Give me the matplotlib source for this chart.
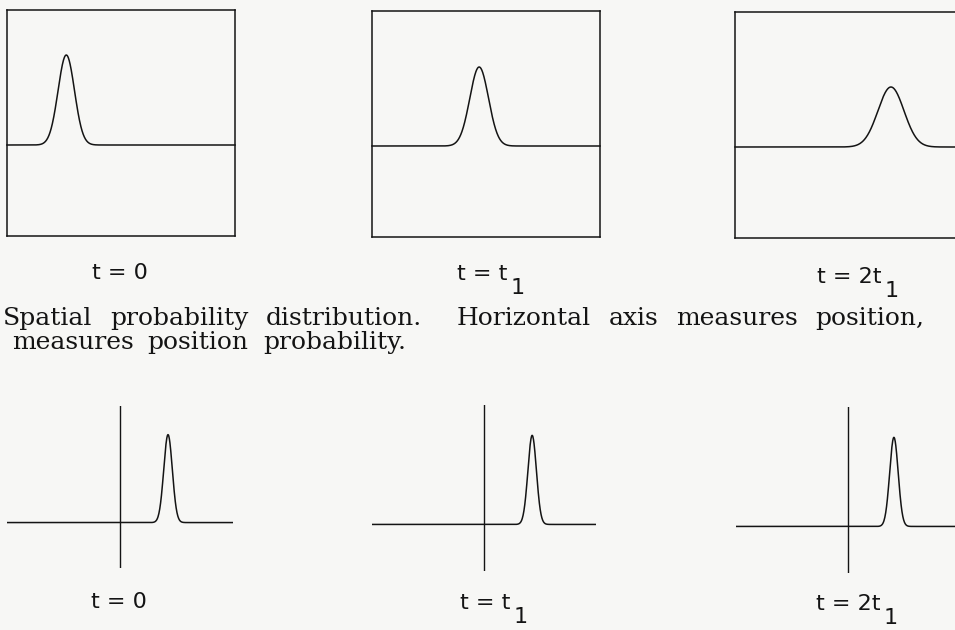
import matplotlib
matplotlib.use('Agg')
import matplotlib.pyplot as plt
import numpy as np

W, H = 955, 630
ink = '#141414'
paper = '#f7f7f5'

# position-space packet: centre, width, peak height (box units)
pos_centers = [0.26, 0.47, 0.684]
pos_sigmas = [0.036, 0.041, 0.057]
pos_heights = [0.90, 0.79, 0.60]

# momentum-space packet (axis units, origin at the vertical line)
mom_centers = [0.425, 0.43, 0.41]
mom_sigmas = [0.038, 0.038, 0.038]
mom_heights = [0.89, 0.88, 0.88]

time_labels = [('t = 0', ''), ('t = t', '1'), ('t = 2t', '1')]
caption_1 = ['Spatial', 'probability', 'distribution.', 'Horizontal', 'axis',
             'measures', 'position,']
caption_2 = ['measures', 'position', 'probability.']

# panel frames in pixels: x0, y0, x1, y1
top_boxes = [(7, 10, 235, 236), (372, 11, 600, 237), (735, 12, 963, 238)]
bot_boxes = [(7, 406, 233, 568), (372, 405, 596, 571), (736, 407, 960, 573)]
top_label_pos = [(120, 279, 'center'), (507, 280, 'right'), (881, 283, 'right')]
bot_label_pos = [(119, 608, 'center'), (510, 609, 'right'), (880, 610, 'right')]


def px_axes(fig, box):
  x0, y0, x1, y1 = box
  return fig.add_axes([x0 / W, 1 - y1 / H, (x1 - x0) / W, (y1 - y0) / H])


def gauss(x, c, s, h):
  return h * np.exp(-0.5 * ((x - c) / s)**2)


fig = plt.figure(figsize=(W / 100, H / 100), dpi=100)
fig.patch.set_facecolor(paper)

for box, c, s, h in zip(top_boxes, pos_centers, pos_sigmas, pos_heights):
  ax = px_axes(fig, box)
  ax.set_facecolor('none')
  x = np.linspace(0, 1, 800)
  ax.plot(x, gauss(x, c, s, h), color=ink, lw=1.1, clip_on=False)
  ax.set_xlim(0, 1)
  ax.set_ylim(-0.91, 1.35)
  ax.set_xticks([])
  ax.set_yticks([])
  for sp in ax.spines.values():
    sp.set_color(ink)
    sp.set_linewidth(1.1)

for box, c, s, h in zip(bot_boxes, mom_centers, mom_sigmas, mom_heights):
  ax = px_axes(fig, box)
  ax.set_facecolor('none')
  x = np.linspace(-1, 1, 800)
  ax.plot(x, gauss(x, c, s, h), color=ink, lw=1.1)
  ax.axvline(0, color=ink, lw=1.0)
  ax.set_xlim(-1, 1)
  ax.set_ylim(-0.46, 1.18)
  ax.axis('off')


def time_label(x, y, ha, main, sub):
  fig.text(x / W, 1 - y / H, main, ha=ha, va='baseline', fontsize=16,
           family='DejaVu Sans', color=ink)
  if sub:
    fig.text((x + 4) / W, 1 - (y + 14) / H, sub, ha='left', va='baseline',
             fontsize=16, family='DejaVu Sans', color=ink)


for (x, y, ha), (main, sub) in zip(top_label_pos, time_labels):
  time_label(x, y, ha, main, sub)
for (x, y, ha), (main, sub) in zip(bot_label_pos, time_labels):
  time_label(x, y, ha, main, sub)


def set_words(words, x0, y, x1=None, gap=14, weights=None):
  # lay words out on one baseline; with x1 given the line is justified
  renderer = fig.canvas.get_renderer()
  texts = [fig.text(0, 1 - y / H, w, ha='left', va='baseline', fontsize=18,
                    family='DejaVu Serif', color=ink) for w in words]
  widths = [t.get_window_extent(renderer).width for t in texts]
  weights = weights or [1] * (len(words) - 1)
  if x1 is not None:
    gap = (x1 - x0 - sum(widths)) / sum(weights)
  x = x0
  for t, w, k in zip(texts, widths, weights + [0]):
    t.set_x(x / W)
    x += w + gap * k


set_words(caption_1, 3, 325, x1=924, weights=[1, 1, 2, 1, 1, 1])
set_words(caption_2, 12, 349, gap=14)

fig.savefig('out.png', dpi=100, facecolor=paper)
